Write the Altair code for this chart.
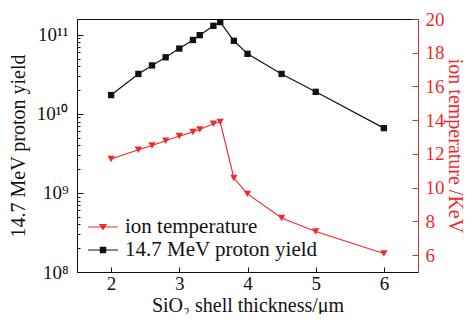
import altair as alt
import pandas as pd

# ---- data ----
thickness = [2.0, 2.4, 2.6, 2.8, 3.0, 3.2, 3.3, 3.5, 3.6, 3.8, 4.0, 4.5, 5.0, 6.0]
proton_yield = [1.73e10, 3.2e10, 4.1e10, 5.2e10, 6.7e10, 8.6e10, 9.9e10,
                1.3e11, 1.45e11, 8.4e10, 5.75e10, 3.2e10, 1.9e10, 6.6e9]
ion_temp = [11.7, 12.25, 12.5, 12.78, 13.06, 13.3, 13.45, 13.79, 13.9,
            10.57, 9.63, 8.2, 7.4, 6.1]

x_ticks = [2, 3, 4, 5, 6]
y_left_major = [1e8, 1e9, 1e10, 1e11]
y_left_minor = [m * 10.0 ** e for e in (8, 9, 10) for m in range(2, 10)]
y_right_ticks = [6, 8, 10, 12, 14, 16, 18, 20]
series_names = ["ion temperature", "14.7 MeV proton yield"]

RED = "#ee2a2a"
BLACK = "#111111"
FONT = "Liberation Serif"

df = pd.DataFrame({"t": thickness, "yld": proton_yield, "temp": ion_temp})
legend_df = pd.DataFrame({"series": series_names})

xs = alt.Scale(domain=[1.5, 6.5], nice=False)
yl = alt.Scale(type="log", domain=[1e8, 1.585e11], nice=False)
yr = alt.Scale(domain=[5, 20], nice=False)

sup_expr = ("datum.value < 5e8 ? '10⁸' : datum.value < 5e9 ? '10⁹' : "
            "datum.value < 5e10 ? '10¹⁰' : '10¹¹'")

# ---- axes ----
x_lab = alt.Axis(orient="bottom", values=x_ticks, ticks=False, labelPadding=2,
                 domainColor=BLACK, labelColor=BLACK, format="d",
                 title="SiO₂ shell thickness/μm", titlePadding=2, titleColor=BLACK)
x_tck = alt.Axis(orient="bottom", values=x_ticks, labels=False, domain=False,
                 tickSize=5, offset=-5, tickColor=BLACK, title=None)

yl_lab = alt.Axis(orient="left", values=y_left_major, ticks=False, labelPadding=9,
                  labelExpr=sup_expr, domainColor=BLACK, labelColor=BLACK,
                  title="14.7 MeV proton yield", titlePadding=8, titleColor=BLACK)
yl_tck = alt.Axis(orient="left", values=y_left_major, labels=False, domain=False,
                  tickSize=6, offset=-6, tickColor=BLACK, title=None)
yl_min = alt.Axis(orient="left", values=y_left_minor, labels=False, domain=False,
                  tickSize=3, offset=-3, tickColor=BLACK, title=None)

yr_lab = alt.Axis(orient="right", values=y_right_ticks, ticks=False, labelPadding=7,
                  domainColor=RED, labelColor=RED,
                  title="ion temperature /KeV", titlePadding=0, titleColor=RED)
yr_tck = alt.Axis(orient="right", values=y_right_ticks, labels=False, domain=False,
                  tickSize=6, offset=-6, tickColor=RED, title=None)

base = alt.Chart(df)

k_line = base.mark_line(color=BLACK, strokeWidth=1.2).encode(
    x=alt.X("t:Q", scale=xs, axis=x_lab),
    y=alt.Y("yld:Q", scale=yl, axis=yl_lab),
)
k_pts = base.mark_point(shape="square", filled=True, color=BLACK, size=40, opacity=1).encode(
    x=alt.X("t:Q", scale=xs, axis=x_tck),
    y=alt.Y("yld:Q", scale=yl, axis=yl_tck),
)
k_minor = base.mark_point(opacity=0).encode(
    x=alt.X("t:Q", scale=xs, axis=None),
    y=alt.Y("yld:Q", scale=yl, axis=yl_min),
).transform_filter("false")

left = alt.layer(k_line, k_pts, k_minor).resolve_axis(x="independent", y="independent")

r_line = base.mark_line(color=RED, strokeWidth=1.2).encode(
    x=alt.X("t:Q", scale=xs, axis=None),
    y=alt.Y("temp:Q", scale=yr, axis=yr_lab),
)
r_pts = base.mark_point(shape="triangle-down", filled=True, color=RED, size=55, opacity=1).encode(
    x=alt.X("t:Q", scale=xs, axis=None),
    y=alt.Y("temp:Q", scale=yr, axis=yr_tck),
)
right = alt.layer(r_line, r_pts).resolve_axis(y="independent")

tri_path = "M-1.25,-0.05H1.25V0.05H-1.25Z M-0.34,-0.26H0.34L0,0.3Z"
sq_path = "M-1.25,-0.05H1.25V0.05H-1.25Z M-0.27,-0.27H0.27V0.27H-0.27Z"

leg = alt.Legend(title=None, orient="none", legendX=14, legendY=196, padding=0,
                 symbolSize=576, labelOffset=10, rowPadding=1, symbolStrokeWidth=0,
                 labelFontSize=21, labelFont=FONT, labelColor=BLACK, labelLimit=400)
legend_layer = alt.Chart(legend_df).mark_point(filled=True, opacity=1).encode(
    color=alt.Color("series:N", scale=alt.Scale(domain=series_names, range=[RED, BLACK]),
                    legend=leg),
    shape=alt.Shape("series:N", scale=alt.Scale(domain=series_names, range=[tri_path, sq_path]),
                    legend=leg),
).transform_filter("false")

chart = alt.layer(left, right, legend_layer).resolve_scale(y="independent").resolve_axis(
    x="independent", y="independent"
).properties(
    width=341, height=253,
    autosize=alt.AutoSizeParams(type="none"),
    padding={"left": 69, "top": 11, "right": 47, "bottom": 42},
).configure_axis(
    grid=False, labelFont=FONT, titleFont=FONT, labelFontSize=19, titleFontSize=20,
    titleFontWeight="normal", domainWidth=1, tickWidth=1,
).configure_view(stroke=BLACK, strokeWidth=1)

chart.save("out.html", embed_options={"renderer": "svg", "actions": False})
